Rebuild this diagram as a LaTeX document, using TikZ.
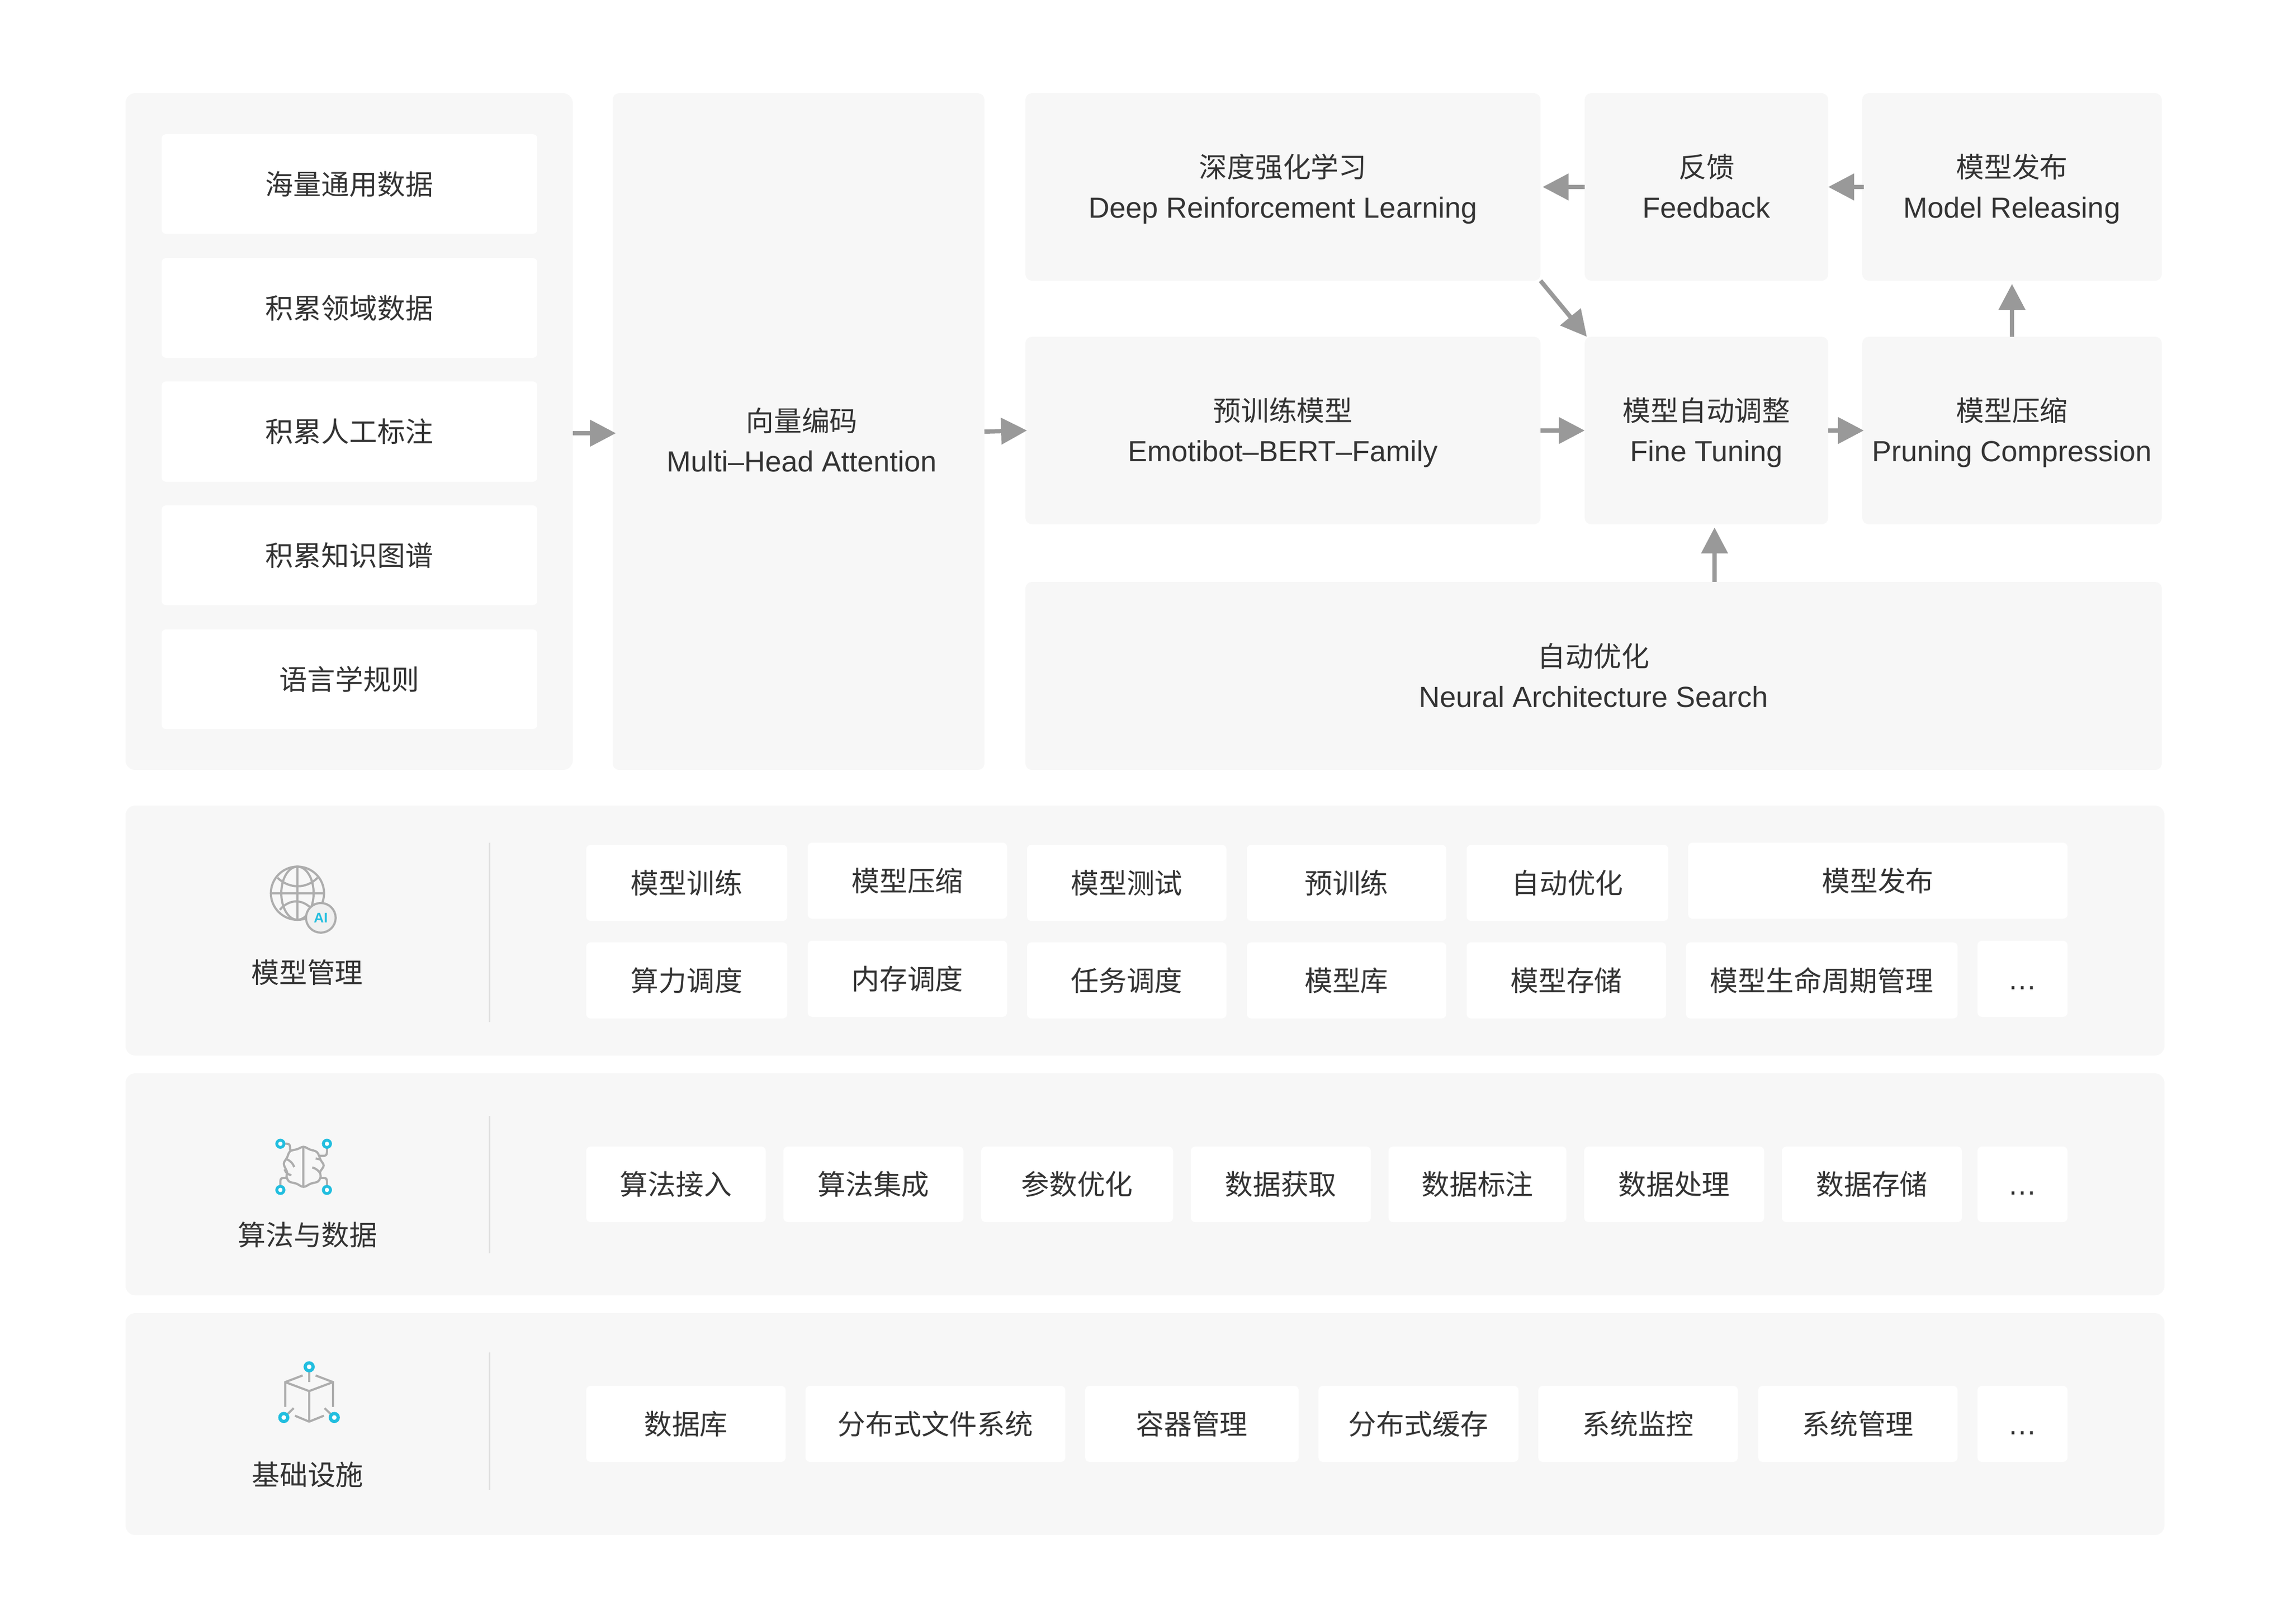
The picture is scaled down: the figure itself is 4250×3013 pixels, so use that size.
\documentclass[tikz,border=0pt]{standalone}
\usepackage{fontspec}
\setmainfont{Liberation Sans}
\newfontfamily\cjk[Scale=0.96]{Noto Sans CJK SC}
\usetikzlibrary{arrows.meta, positioning}

\definecolor{panelgray}{HTML}{F7F7F7}
\definecolor{textgray}{HTML}{333333}
\definecolor{flowgray}{HTML}{999999}
\definecolor{icongray}{HTML}{ADADAD}
\definecolor{linegray}{HTML}{DEDEDE}
\definecolor{aqua}{HTML}{22BEDF}

\newcommand{\duo}[2]{\rule{0pt}{10.3pt}{\cjk #1}\\\rule[-2.3pt]{0pt}{2.3pt}#2}

\tikzset{
  box/.style n args={4}{at={({(#1+#3)/2},{(#2+#4)/2})},
    minimum width={(#3-#1)*0.2pt}, minimum height={(#4-#2)*0.2pt}},
  band/.style={fill=panelgray, rounded corners=3.6pt, inner sep=0pt, outer sep=0pt},
  panel/.style={fill=panelgray, rounded corners=2.4pt, inner sep=0pt, outer sep=0pt,
    align=center, text=textgray, font=\fontsize{10.8}{15}\selectfont},
  chip/.style={fill=white, rounded corners=1.6pt, inner sep=0pt, outer sep=0pt,
    text=textgray, text height=9.15pt, text depth=1.25pt,
    font=\fontsize{10.8}{15}\selectfont\cjk},
  caption/.style={inner sep=0pt, text=textgray, font=\fontsize{10.8}{15}\selectfont\cjk},
  flow/.style={draw=flowgray, line width=1.6pt, -{Triangle[length=9.6pt,width=9.6pt]}},
  divider/.style={draw=linegray, line width=0.6pt},
  iconline/.style={draw=icongray, line width=0.8pt},
  ring/.style={draw=aqua, fill=white, line width=1.05pt}
}

\begin{document}
\begin{tikzpicture}[x=0.2pt, y=-0.2pt]
\useasboundingbox (0,0) rectangle (4250,3013);

% top part
\node[band, box={233}{173}{1063}{1429}] (source) {};
\foreach \a/\b/\t [count=\i] in {249/434/海量通用数据, 479/664/积累领域数据, 708/894/积累人工标注,
  938/1123/积累知识图谱, 1168/1353/语言学规则}
{
\node[chip, box={300}{\a}{997}{\b}] (data\i) {\t};
}
\node[panel, box={1137}{173}{1827}{1429}] (encode) {};
\node[panel, at={(1488,818)}] (encodetxt) {\duo{向量编码}{Multi–Head Attention}};

\node[panel, box={1903}{173}{2859}{521}] (drl) {\duo{深度强化学习}{Deep Reinforcement Learning}};
\node[panel, box={2941}{173}{3393}{521}] (feedback) {\duo{反馈}{Feedback}};
\node[panel, box={3456}{173}{4012}{521}] (release) {\duo{模型发布}{Model Releasing}};
\node[panel, box={1903}{625}{2859}{973}] (bert) {\duo{预训练模型}{Emotibot–BERT–Family}};
\node[panel, box={2941}{625}{3393}{973}] (fine) {\duo{模型自动调整}{Fine Tuning}};
\node[panel, box={3456}{625}{4012}{973}] (prune) {\duo{模型压缩}{Pruning Compression}};
\node[panel, box={1903}{1080}{4012}{1429}] (nas) {\duo{自动优化}{Neural Architecture Search}};

\draw[flow, shorten >=-1.2pt] ([yshift=-0.6pt]source.east) -- ([yshift=-0.6pt]encode.west);
\draw[flow, shorten >=-0.6pt] (encode.east) -- (bert.west);
\draw[flow] (bert.east) -- (fine.west);
\draw[flow, shorten >=-0.6pt] (fine.east) -- (prune.west);
\draw[flow, shorten >=1.2pt] (prune.north) -- (release.south);
\draw[flow, shorten <=-0.6pt] (release.west) -- (feedback.east);
\draw[flow, shorten >=0.8pt] (feedback.west) -- (drl.east);
\draw[flow] (drl.south east) -- ([xshift=0.8pt]fine.north west);
\coordinate[xshift=3pt] (fineup) at (fine.south);
\draw[flow, shorten >=1.2pt] (fineup |- nas.north) -- (fineup);

% lower bands
\node[band, box={233}{1495}{4017}{1959}] (model) {};
\node[band, box={233}{1992}{4017}{2404}] (algo) {};
\node[band, box={233}{2437}{4017}{2849}] (infra) {};
\draw[divider] (908,1564) -- (908,1897);
\draw[divider] (908,2071) -- (908,2326);
\draw[divider] (908,2510) -- (908,2765);
\node[caption, at={(570,1805)}] (modeltxt) {模型管理};
\node[caption, at={(571,2292)}] (algotxt) {算法与数据};
\node[caption, at={(571,2737)}] (infratxt) {基础设施};

\foreach \a/\b/\s/\t [count=\i] in {1088/1461/1568/模型训练, 1499/1869/1564/模型压缩, 1906/2276/1568/模型测试,
  2314/2684/1568/预训练, 2722/3096/1568/自动优化, 3133/3837/1564/模型发布,
  1088/1461/1749/算力调度, 1499/1869/1746/内存调度, 1906/2276/1749/任务调度,
  2314/2684/1749/模型库, 2722/3092/1749/模型存储, 3129/3633/1749/模型生命周期管理,
  3670/3837/1746/{\rmfamily …}}
{
\node[chip, box={\a}{\s}{\b}{\s+141}] (modelitem\i) {\t};
}
\foreach \a/\b/\t [count=\i] in {1088/1421/算法接入, 1454/1788/算法集成, 1821/2177/参数优化, 2210/2544/数据获取,
  2577/2907/数据标注, 2940/3274/数据处理, 3307/3641/数据存储, 3670/3837/{\rmfamily …}}
{
\node[chip, box={\a}{2128}{\b}{2268}] (algoitem\i) {\t};
}
\foreach \a/\b/\t [count=\i] in {1088/1458/数据库, 1495/1977/分布式文件系统, 2014/2410/容器管理, 2447/2818/分布式缓存,
  2855/3225/系统监控, 3263/3633/系统管理, 3670/3837/{\rmfamily …}}
{
\node[chip, box={\a}{2572}{\b}{2713}] (infraitem\i) {\t};
}

% globe icon
\begin{scope}[shift={(440,1560)}, x=0.0667pt, y=-0.0667pt]
\draw[iconline] (336,293) circle [radius=148];
\draw[iconline] (336,293) ellipse [x radius=90, y radius=148];
\draw[iconline] (336,145) -- (336,441);
\draw[iconline] (188,293) -- (484,293);
\draw[iconline] (225,207) .. controls (290,270) and (385,270) .. (448,207);
\draw[iconline] (238,385) .. controls (290,325) and (360,325) .. (410,375);
\node[circle, draw=icongray, fill=black!6, line width=0.8pt, minimum size=11pt, inner sep=0pt,
  text=aqua, font=\fontsize{5.2}{5.2}\selectfont\bfseries] (aibadge) at (466,430) {AI};
\end{scope}

% brain icon
\begin{scope}[shift={(440,2080)}, x=0.0667pt, y=-0.0667pt]
\draw[iconline] plot[smooth cycle, tension=0.6] coordinates {(370,145) (335,158) (295,170) (278,205) (260,240)
  (278,285) (275,310) (290,338) (330,350) (370,368) (410,350) (450,338) (465,310) (462,285) (482,250)
  (465,218) (445,175) (405,160)};
\draw[iconline] (370,145) -- (370,368);
\draw[iconline] (278,215) .. controls (300,225) and (312,240) .. (318,258);
\draw[iconline] (264,270) .. controls (270,290) and (285,300) .. (302,303);
\draw[iconline] (437,210) -- (465,216);
\draw[iconline] (418,260) .. controls (440,265) and (455,280) .. (462,292);
\draw[iconline] (268,128) -- (278,128) .. controls (290,128) and (295,135) .. (295,148) -- (295,165);
\draw[iconline] (500,150) -- (500,175) .. controls (500,188) and (495,195) .. (482,195) -- (458,195);
\draw[iconline] (241,362) -- (241,335) .. controls (241,323) and (248,318) .. (258,318) -- (280,318);
\draw[iconline] (500,362) -- (500,335) .. controls (500,323) and (493,318) .. (483,318) -- (460,318);
\foreach \x/\y in {241/128, 500/128, 241/385, 500/385}
\draw[ring] (\x,\y) circle [radius=20];
\end{scope}

% cube icon
\begin{scope}[shift={(440,2500)}, x=0.0667pt, y=-0.0667pt]
\draw[iconline] (401,140) -- (401,195);
\draw[iconline] (365,158) -- (268,195) -- (268,333);
\draw[iconline] (437,158) -- (534,195) -- (534,333);
\draw[iconline] (268,195) -- (401,245) -- (534,195);
\draw[iconline] (401,245) -- (401,415);
\draw[iconline] (322,382) -- (401,415) -- (483,382);
\draw[iconline] (315,340) -- (282,372);
\draw[iconline] (487,340) -- (520,372);
\foreach \x/\y in {401/110, 260/392, 541/392}
\draw[ring, line width=1.2pt] (\x,\y) circle [radius=22];
\end{scope}
\end{tikzpicture}
\end{document}
